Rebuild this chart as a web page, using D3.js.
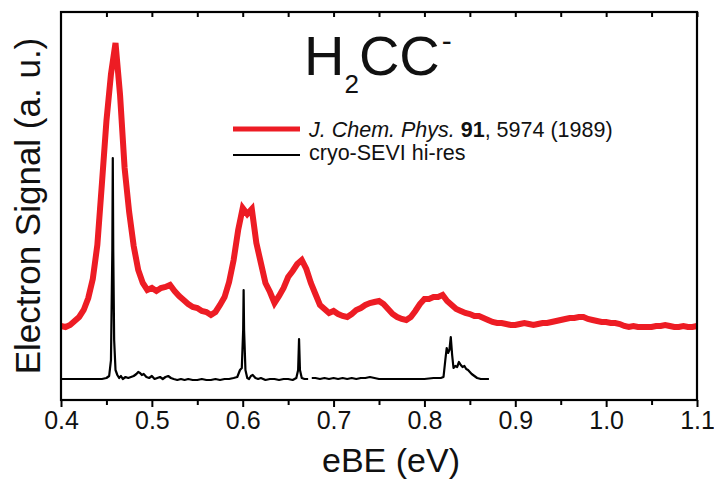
<!DOCTYPE html>
<html>
<head>
<meta charset="utf-8">
<script src="https://cdn.jsdelivr.net/npm/d3@7/dist/d3.min.js"></script>
<style>
  html, body { margin: 0; padding: 0; background: #fff; }
  svg { display: block; font-family: "Liberation Sans", Arial, Helvetica, sans-serif; }
</style>
</head>
<body>
<svg id="chart" width="714" height="487"></svg>
<script>
// Electron binding energy ticks (eV)
const xTickValues = [0.4, 0.5, 0.6, 0.7, 0.8, 0.9, 1.0, 1.1];
const xTickLabels = ["0.4", "0.5", "0.6", "0.7", "0.8", "0.9", "1.0", "1.1"];

// Low-resolution photoelectron spectrum, J. Chem. Phys. 91, 5974 (1989)
const redE = [
  0.400,0.405,0.410,0.415,0.420,0.425,0.430,0.435,0.440,0.445,
  0.450,0.455,0.460,0.465,0.470,0.475,0.480,0.485,0.490,0.495,
  0.500,0.505,0.510,0.515,0.520,0.525,0.530,0.535,0.540,0.545,
  0.550,0.555,0.560,0.565,0.570,0.575,0.580,0.585,0.590,0.595,
  0.600,0.605,0.610,0.615,0.620,0.625,0.630,0.635,0.640,0.645,
  0.650,0.655,0.660,0.665,0.670,0.675,0.680,0.685,0.690,0.695,
  0.700,0.705,0.710,0.715,0.720,0.725,0.730,0.735,0.740,0.745,
  0.750,0.755,0.760,0.765,0.770,0.775,0.780,0.785,0.790,0.795,
  0.800,0.805,0.810,0.815,0.820,0.825,0.830,0.835,0.840,0.845,
  0.850,0.855,0.860,0.865,0.870,0.875,0.880,0.885,0.890,0.895,
  0.900,0.905,0.910,0.915,0.920,0.925,0.930,0.935,0.940,0.945,
  0.950,0.955,0.960,0.965,0.970,0.975,0.980,0.985,0.990,0.995,
  1.000,1.005,1.010,1.015,1.020,1.025,1.030,1.035,1.040,1.045,
  1.050,1.055,1.060,1.065,1.070,1.075,1.080,1.085,1.090,1.095,
  1.100
];
const redI = [
   74, 73, 75, 79, 83, 90,102,121,155,216,
  279,326,357,305,232,188,154,130,117,110,
  112,109,112,113,115,109,104,100, 96, 93,
   92, 89, 88, 85, 88, 95,103,118,140,170,
  192,186,191,157,137,117,108, 97,104,112,
  123,129,136,140,131,117,106, 95, 91, 87,
   89, 86, 84, 83, 86, 90, 92, 95, 97, 98,
   99, 96, 91, 86, 83, 81, 80, 83, 89, 96,
  101,101,103,103,105, 99, 95, 91, 89, 87,
   86, 84, 84, 82, 80, 78, 77, 77, 76, 75,
   75, 76, 77, 76, 75, 76, 77, 77, 78, 79,
   80, 81, 82, 82, 83, 83, 81, 80, 79, 78,
   78, 77, 77, 76, 74, 73, 74, 73, 73, 73,
   73, 74, 74, 75, 74, 73, 73, 74, 73, 73,
   74
];

// High-resolution cryo-SEVI spectrum (null marks the break in the scan)
const blackE = [
  0.400,0.410,0.420,0.430,0.440,0.445,0.450,0.453,0.455,0.4565,
  0.457,0.4575,0.4585,0.460,0.462,0.464,0.466,0.468,0.471,0.474,
  0.477,0.480,0.483,0.485,0.487,0.489,0.491,0.494,0.497,0.500,
  0.503,0.506,0.509,0.512,0.515,0.518,0.521,0.524,0.528,0.532,
  0.536,0.540,0.545,0.550,0.555,0.560,0.565,0.570,0.575,0.580,
  0.585,0.590,0.594,0.597,0.599,0.6005,0.601,0.6015,0.603,0.605,
  0.607,0.609,0.611,0.614,0.617,0.620,0.625,0.630,0.635,0.640,
  0.645,0.650,0.655,0.659,0.661,0.662,0.663,0.665,0.668,0.672,
  0.674,0.676,0.680,0.685,0.690,0.695,0.700,0.705,0.710,0.715,
  0.720,0.725,0.730,0.735,0.740,0.745,0.750,0.760,0.770,0.780,
  0.790,0.800,0.810,0.815,0.818,0.821,0.823,0.8245,0.826,0.8275,
  0.829,0.8305,0.832,0.834,0.836,0.838,0.840,0.842,0.844,0.846,
  0.848,0.850,0.852,0.855,0.858,0.862,0.866,0.871
];
const blackI = [
   21, 21, 21, 21, 21, 21, 22, 24, 40,150,
  242,150, 60, 30, 25, 22, 24, 21, 23, 22,
   23, 24, 26, 28, 27, 25, 26, 23, 22, 24,
   21, 22, 23, 21, 23, 24, 22, 21, 20, 21,
   20, 21, 20, 20, 21, 20, 20, 21, 20, 21,
   21, 22, 23, 30, 32, 70,110, 70, 30, 22,
   21, 24, 25, 22, 21, 22, 20, 21, 21, 20,
   21, 21, 20, 22, 30, 61, 30, 22, 21, 21,
  null, 22, 22, 21, 22, 21, 22, 21, 22, 21,
   22, 21, 22, 22, 23, 22, 21, 21, 21, 21,
   21, 21, 22, 22, 22, 23, 40, 52, 47, 50,
   63, 45, 32, 34, 33, 38, 35, 33, 34, 31,
   30, 28, 26, 24, 22, 21, 21, 21
];

const legendLabels = ["cryo-SEVI hi-res"];

const svg = d3.select("#chart");
const margin = { left: 61, right: 17, top: 12, bottom: 87 };
const W = 714, H = 487;
const plotW = W - margin.left - margin.right;
const plotH = H - margin.top - margin.bottom;

const x = d3.scaleLinear().domain([0.4, 1.1]).range([margin.left, margin.left + plotW]);
const y = d3.scaleLinear().domain([0, 388]).range([margin.top + plotH, margin.top]);

const red = "#ed1c24";

// Spectra
const redPts = redE.map((e, i) => [e, redI[i]]);
const blackPts = blackE.map((e, i) => [e, blackI[i]]);

const line = d3.line()
  .defined(d => d[1] !== null)
  .x(d => x(d[0]))
  .y(d => y(d[1]));

svg.append("path")
  .datum(redPts)
  .attr("fill", "none")
  .attr("stroke", red)
  .attr("stroke-width", 6)
  .attr("stroke-linejoin", "miter")
  .attr("d", line);

svg.append("path")
  .datum(blackPts)
  .attr("fill", "none")
  .attr("stroke", "#000")
  .attr("stroke-width", 2.2)
  .attr("stroke-linejoin", "round")
  .attr("d", line);

// Bottom axis: major ticks with labels, minor ticks at half steps
const yBottom = margin.top + plotH;
const minorTicks = d3.range(0.45, 1.1, 0.1).map(v => +v.toFixed(2));
const bottomAxis = d3.axisBottom(x)
  .tickValues(xTickValues)
  .tickFormat((d, i) => xTickLabels[i])
  .tickSize(7)
  .tickPadding(4);
const gB = svg.append("g").attr("transform", `translate(0,${yBottom})`).call(bottomAxis);
gB.select(".domain").remove();
gB.selectAll(".tick line").attr("stroke-width", 2);
gB.selectAll(".tick text")
  .attr("font-size", 25)
  .attr("font-family", "Liberation Sans, Arial, sans-serif")
  .attr("fill", "#111");

svg.append("g").attr("transform", `translate(0,${yBottom})`)
  .call(d3.axisBottom(x).tickValues(minorTicks).tickSize(5).tickFormat(""))
  .call(g => g.select(".domain").remove())
  .call(g => g.selectAll(".tick line").attr("stroke-width", 2));

// Top axis: inward ticks every 0.05 eV
const topTicks = d3.range(0.45, 1.1, 0.05).map(v => +v.toFixed(2));
svg.append("g").attr("transform", `translate(0,${margin.top})`)
  .call(d3.axisBottom(x).tickValues(topTicks).tickSize(5).tickFormat(""))
  .call(g => g.select(".domain").remove())
  .call(g => g.selectAll(".tick line").attr("stroke-width", 2));

// Frame
svg.append("rect")
  .attr("x", margin.left).attr("y", margin.top)
  .attr("width", plotW).attr("height", plotH)
  .attr("fill", "none").attr("stroke", "#000").attr("stroke-width", 2.2);

// Axis titles
svg.append("text")
  .attr("x", margin.left + plotW / 2 + 12).attr("y", 472)
  .attr("text-anchor", "middle")
  .attr("font-size", 34)
  .attr("fill", "#111")
  .text("eBE (eV)");

svg.append("text")
  .attr("transform", `translate(40,${margin.top + 194}) rotate(-90)`)
  .attr("text-anchor", "middle")
  .attr("font-size", 35)
  .attr("fill", "#111")
  .text("Electron Signal (a. u.)");

// Species label
const title = svg.append("text").attr("x", 304).attr("y", 75).attr("fill", "#111");
title.append("tspan").attr("font-size", 56).text("H");
title.append("tspan").attr("font-size", 26).attr("dy", 18).text("2");
title.append("tspan").attr("font-size", 56).attr("dy", -18).text("CC");
title.append("tspan").attr("font-size", 30).attr("dx", 2).attr("dy", -24).text("-");

// Legend
const lg = svg.append("g");
lg.append("line").attr("x1", 233).attr("x2", 300).attr("y1", 129).attr("y2", 129)
  .attr("stroke", red).attr("stroke-width", 5);
lg.append("line").attr("x1", 233).attr("x2", 300).attr("y1", 155).attr("y2", 155)
  .attr("stroke", "#000").attr("stroke-width", 2);

const t1 = lg.append("text").attr("x", 309).attr("y", 137).attr("font-size", 21.5).attr("fill", "#111");
t1.append("tspan").attr("font-style", "italic").text("J. Chem. Phys.");
t1.append("tspan").text(" ");
t1.append("tspan").attr("font-weight", "bold").text("91");
t1.append("tspan").text(", 5974 (1989)");

lg.append("text").attr("x", 309).attr("y", 160).attr("font-size", 21.5).attr("fill", "#111")
  .text(legendLabels[0]);
</script>
</body>
</html>
